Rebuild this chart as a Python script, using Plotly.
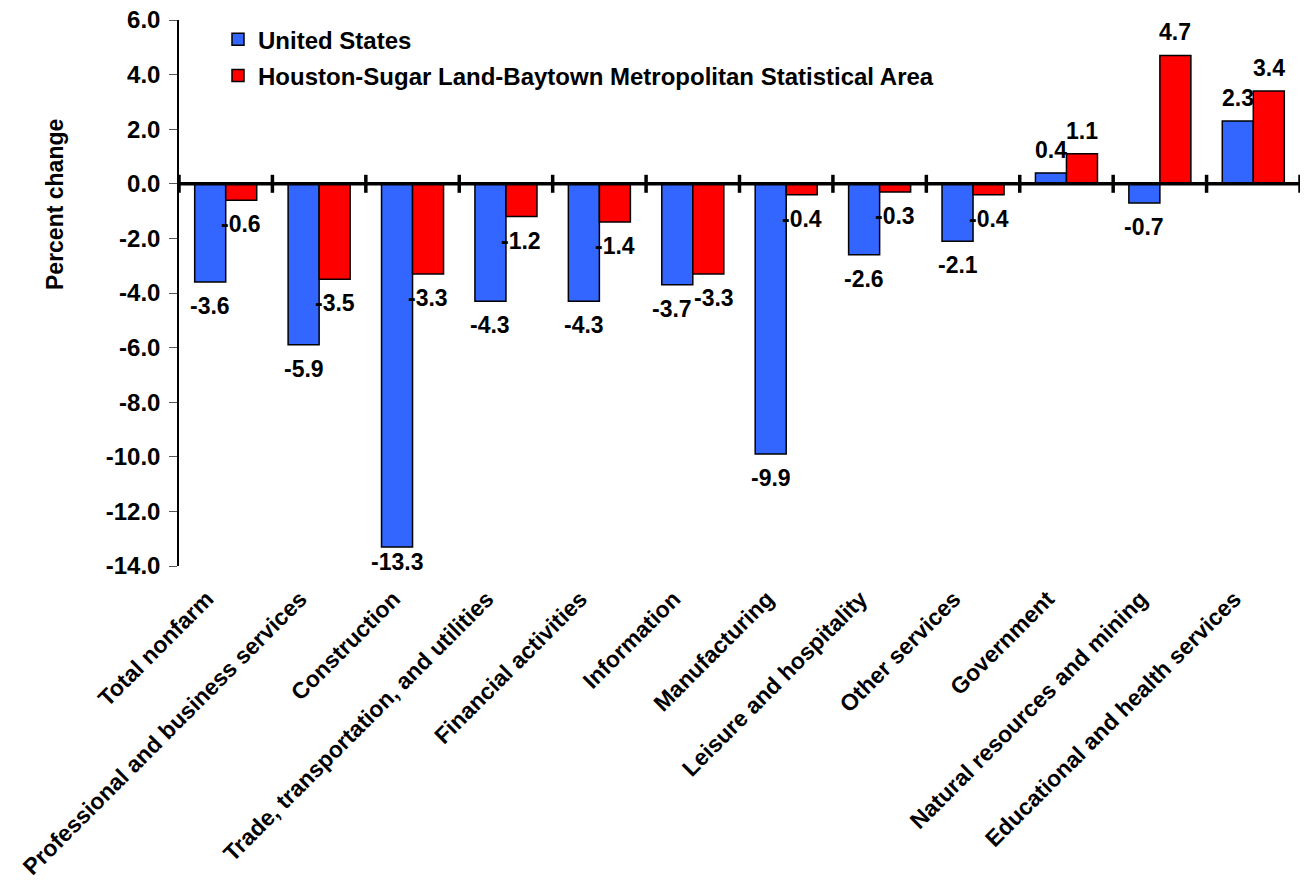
import plotly.graph_objects as go

categories = ["Total nonfarm", "Professional and business services", "Construction",
              "Trade, transportation, and utilities", "Financial activities", "Information",
              "Manufacturing", "Leisure and hospitality", "Other services", "Government",
              "Natural resources and mining", "Educational and health services"]
us_values = [-3.6, -5.9, -13.3, -4.3, -4.3, -3.7, -9.9, -2.6, -2.1, 0.4, -0.7, 2.3]
houston_values = [-0.6, -3.5, -3.3, -1.2, -1.4, -3.3, -0.4, -0.3, -0.4, 1.1, 4.7, 3.4]
series_names = ["United States", "Houston-Sugar Land-Baytown Metropolitan Statistical Area"]
y_ticks = [-14, -12, -10, -8, -6, -4, -2, 0, 2, 4, 6]

FONT = "Arial, 'Liberation Sans', sans-serif"
BLUE = "#3366FF"
RED = "#FF0000"
W, H = 1305, 886
ML, MR, MT, MB = 179, 5, 20, 320
YMIN, YMAX = -14, 6
BARGAP = 0.336
LABEL_SIZE = 23
plot_w = W - ML - MR
plot_h = H - MT - MB
px_per_unit = plot_h / (YMAX - YMIN)
cat_px = plot_w / len(categories)
bar_center_px = cat_px * (1 - BARGAP) / 2  # distance between the two bar centres

CHAR_W = {"-": 0.333, ".": 0.278}


def text_w(s):
    return sum(CHAR_W.get(c, 0.556) for c in s) * LABEL_SIZE


fig = go.Figure()
for name, vals, col, grp in [(series_names[0], us_values, BLUE, "a"),
                             (series_names[1], houston_values, RED, "b")]:
    fig.add_trace(go.Bar(
        x=categories, y=vals, name=name, legendgroup=grp,
        marker=dict(color=col, line=dict(color="black", width=1.5)),
    ))

# value labels
off = (1 - BARGAP) / 4
annotations = []
for i in range(len(categories)):
    pair = [us_values[i], houston_values[i]]
    texts = [f"{v:.1f}" for v in pair]
    # push apart labels that would collide
    push = 0
    overlap = (text_w(texts[0]) + text_w(texts[1])) / 2 - bar_center_px
    if (pair[0] < 0) == (pair[1] < 0) and abs(pair[0] - pair[1]) * px_per_unit < 20 and overlap > 3:
        push = overlap / 2 + 1
    for s, v in enumerate(pair):
        xpos = i - off if s == 0 else i + off
        xshift = -push if s == 0 else push
        if v >= 0:
            annotations.append(dict(x=xpos, y=v, xref="x", yref="y", text=f"<b>{texts[s]}</b>",
                                    showarrow=False, yanchor="bottom", yshift=8, xshift=xshift,
                                    font=dict(family=FONT, size=LABEL_SIZE, color="black")))
        else:
            bar_px = -v * px_per_unit
            shift = 9
            max_px = (-YMIN) * px_per_unit - 25
            if bar_px + shift > max_px:
                shift = max(0, max_px - bar_px)
            annotations.append(dict(x=xpos, y=v, xref="x", yref="y", text=f"<b>{texts[s]}</b>",
                                    showarrow=False, yanchor="top", yshift=-shift, xshift=xshift,
                                    font=dict(family=FONT, size=LABEL_SIZE, color="black")))

annotations.append(dict(x=(55 - ML) / plot_w, y=(H - MB - 205) / plot_h,
                        xref="paper", yref="paper", text="<b>Percent change</b>",
                        textangle=-90, showarrow=False, xanchor="center", yanchor="middle",
                        font=dict(family=FONT, size=23, color="black")))

# tick marks crossing the zero line at category boundaries
shapes = []
for i in range(len(categories) + 1):
    shapes.append(dict(type="line", xref="x", yref="y", x0=i - 0.5, x1=i - 0.5,
                       ysizemode="pixel", yanchor=0, y0=-9, y1=9,
                       line=dict(color="black", width=3.5), layer="above"))
shapes.append(dict(type="line", xref="paper", yref="y", x0=0, x1=1, y0=0, y1=0,
                   line=dict(color="black", width=3.5), layer="above"))

fig.update_layout(
    width=W, height=H,
    margin=dict(l=ML, r=MR, t=MT, b=MB, autoexpand=False),
    paper_bgcolor="white", plot_bgcolor="white",
    barmode="group", bargap=BARGAP, bargroupgap=0,
    font=dict(family=FONT, color="black"),
    showlegend=True,
    legend=dict(x=(218 - ML) / plot_w, y=1.005, xanchor="left", yanchor="top",
                font=dict(family=FONT, size=24, color="black", weight="bold"),
                bgcolor="rgba(0,0,0,0)", traceorder="grouped", tracegroupgap=2,
                itemwidth=30),
    annotations=annotations,
    shapes=shapes,
    xaxis=dict(type="category", range=[-0.5, len(categories) - 0.5], showline=False,
               ticks="", showgrid=False, zeroline=False, tickangle=-45, automargin=False,
               ticklabelshift=-19, ticklabelstandoff=14, ticklabeloverflow="allow",
               tickfont=dict(family=FONT, size=23, color="black", weight="bold")),
    yaxis=dict(range=[YMIN, YMAX], tickmode="array", tickvals=y_ticks,
               ticktext=[f"{t:.1f}" for t in y_ticks], showgrid=False, zeroline=False,
               showline=True, linecolor="black", linewidth=1.5, automargin=False,
               ticks="outside", ticklen=8, tickcolor="#555", tickwidth=1,
               ticklabelstandoff=4, ticklabeloverflow="allow",
               tickfont=dict(family=FONT, size=24, color="black", weight="bold")),
)

fig.write_html("out.html", config={"displayModeBar": False},
               post_script="document.body.style.margin='0px';document.body.style.overflow='hidden';")
